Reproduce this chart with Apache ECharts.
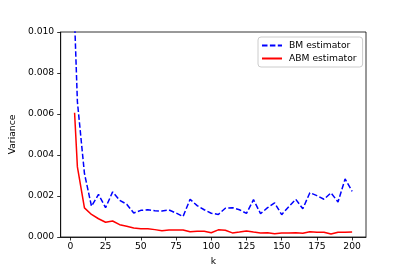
<!DOCTYPE html>
<html>
<head>
<meta charset="utf-8">
<script src="https://cdn.jsdelivr.net/npm/echarts@6/dist/echarts.min.js"></script>
<style>
html,body{margin:0;padding:0;background:#fff;}
#c{width:407px;height:271px;}
</style>
</head>
<body>
<div id="c"></div>
<script>
const kValues = [3, 5, 10, 15, 20, 25, 30, 35, 40, 45, 50, 55, 60, 65, 70, 75, 80, 85, 90, 95, 100,
  105, 110, 115, 120, 125, 130, 135, 140, 145, 150, 155, 160, 165, 170, 175, 180, 185, 190, 195, 200];
const bmVariance = [0.0106, 0.0066, 0.0031, 0.0015, 0.00208, 0.00143, 0.0022, 0.00179, 0.0016, 0.00117, 0.0013,
  0.00133, 0.00128, 0.00127, 0.00132, 0.00117, 0.001, 0.00184, 0.00153, 0.00133, 0.00116,
  0.0011, 0.0014, 0.00143, 0.00133, 0.00115, 0.00182, 0.00114, 0.00143, 0.00166, 0.00109,
  0.00148, 0.00184, 0.00138, 0.00216, 0.00202, 0.00184, 0.00215, 0.00171, 0.00283, 0.00223];
const abmVariance = [0.00606, 0.00342, 0.00142, 0.0011, 0.00089, 0.00072, 0.00078, 0.0006, 0.00052, 0.00044, 0.0004,
  0.0004, 0.00036, 0.0003, 0.00034, 0.00034, 0.00034, 0.00026, 0.00028, 0.00028, 0.00021,
  0.00035, 0.00033, 0.0002, 0.00024, 0.00029, 0.00024, 0.0002, 0.00021, 0.00016, 0.0002,
  0.0002, 0.00021, 0.00018, 0.00026, 0.00023, 0.00023, 0.00015, 0.00023, 0.00023, 0.00024];
const xTicks = [0, 25, 50, 75, 100, 125, 150, 175, 200];
const yTicks = [0, 0.002, 0.004, 0.006, 0.008, 0.01];
const seriesNames = ['BM estimator', 'ABM estimator'];

const font = '"DejaVu Sans", sans-serif';
const fs = 9.2;
const chart = echarts.init(document.getElementById('c'), null, {renderer: 'canvas'});
chart.setOption({
  animation: false,
  backgroundColor: '#fff',
  grid: {left: 51, top: 32, right: 41, bottom: 34, show: true, borderColor: '#000', borderWidth: 0.8, backgroundColor: 'transparent'},
  legend: {
    data: seriesNames,
    orient: 'vertical',
    left: 258, top: 37,
    width: 104,
    padding: [4, 6, 4, 3],
    itemGap: 4,
    itemWidth: 20, itemHeight: 10,
    itemStyle: {opacity: 0},
    lineStyle: {opacity: 1},
    backgroundColor: 'rgba(255,255,255,0.8)',
    borderColor: '#cccccc', borderWidth: 1, borderRadius: 3,
    textStyle: {fontFamily: font, fontSize: fs, color: '#000', padding: [0, 0, 0, 2]}
  },
  xAxis: {
    type: 'value', min: -6.85, max: 209.85,
    name: 'k', nameLocation: 'middle', nameGap: 20,
    nameTextStyle: {fontFamily: font, fontSize: fs, color: '#000'},
    splitLine: {show: false},
    axisLine: {show: true, onZero: false, lineStyle: {color: '#000', width: 0.8}},
    axisTick: {show: true, length: 3.5, lineStyle: {color: '#000', width: 0.8}, customValues: xTicks},
    axisLabel: {fontFamily: font, fontSize: fs, color: '#000', margin: 5.5, customValues: xTicks, formatter: v => String(v)}
  },
  yAxis: {
    type: 'value', min: 0, max: 0.01, interval: 0.002,
    name: 'Variance', nameLocation: 'middle', nameGap: 42,
    nameTextStyle: {fontFamily: font, fontSize: fs, color: '#000'},
    splitLine: {show: false},
    axisLine: {show: true, onZero: false, lineStyle: {color: '#000', width: 0.8}},
    axisTick: {show: true, length: 3.5, lineStyle: {color: '#000', width: 0.8}, customValues: yTicks},
    axisLabel: {fontFamily: font, fontSize: fs, color: '#000', margin: 6.5, customValues: yTicks, formatter: v => v.toFixed(3)}
  },
  series: [
    {
      name: seriesNames[0], type: 'line', symbol: 'none', clip: true,
      data: kValues.map((k, i) => [k, bmVariance[i]]),
      itemStyle: {color: '#0000ff'},
      lineStyle: {color: '#0000ff', width: 1.5, type: [5.5, 2.4]}
    },
    {
      name: seriesNames[1], type: 'line', symbol: 'none', clip: true,
      data: kValues.map((k, i) => [k, abmVariance[i]]),
      itemStyle: {color: '#ff0000'},
      lineStyle: {color: '#ff0000', width: 1.5}
    }
  ]
});
</script>
</body>
</html>
